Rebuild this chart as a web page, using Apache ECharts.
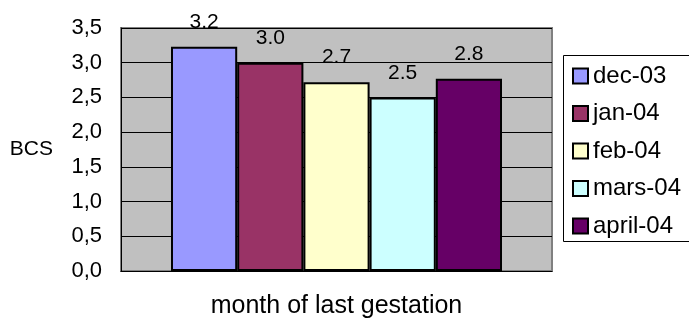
<!DOCTYPE html>
<html>
<head>
<meta charset="utf-8">
<script src="https://cdn.jsdelivr.net/npm/echarts@6/dist/echarts.min.js"></script>
<style>
  html, body { margin: 0; padding: 0; background: #fff; }
  #chart { width: 689px; height: 324px; }
</style>
</head>
<body>
<div id="chart"></div>
<script>
// Body condition score by month of last gestation
const months = ['dec-03', 'jan-04', 'feb-04', 'mars-04', 'april-04'];
const bcsValues = [3.23, 3.0, 2.72, 2.5, 2.77];
const barColors = ['#9999FF', '#993366', '#FFFFCC', '#CCFFFF', '#660066'];
const yTicks = { min: 0, max: 3.5, step: 0.5 };

const FONT = 'Liberation Sans, Arial, sans-serif';

const series = months.map((m, i) => ({
  name: m,
  type: 'bar',
  data: [bcsValues[i]],
  barGap: '0%',
  barCategoryGap: '23.2%',
  itemStyle: { color: barColors[i], borderColor: '#000', borderWidth: 2 },
  label: {
    show: true,
    position: 'top',
    distance: 14,
    color: '#000',
    fontFamily: FONT,
    fontSize: 21,
    formatter: p => p.value.toFixed(1)
  },
  emphasis: { disabled: true }
}));

const chart = echarts.init(document.getElementById('chart'), null, { renderer: 'canvas' });
chart.setOption({
  animation: false,
  textStyle: { fontFamily: FONT },
  grid: {
    left: 121, top: 28, right: 137, bottom: 53,
    show: true,
    backgroundColor: '#c0c0c0',
    borderColor: '#808080',
    borderWidth: 2
  },
  // legend frame runs off the right edge of the canvas
  graphic: [{
    type: 'rect',
    z: 1,
    silent: true,
    shape: { x: 563.5, y: 55.5, width: 200, height: 186 },
    style: { fill: '#fff', stroke: '#000', lineWidth: 1 }
  }],
  legend: {
    orient: 'vertical',
    left: 563,
    top: 55,
    padding: [9, 10, 6, 9],
    itemWidth: 15,
    itemHeight: 15,
    itemGap: 13.5,
    z: 5,
    icon: 'rect',
    textStyle: { fontFamily: FONT, fontSize: 24, color: '#000' },
    data: months
  },
  xAxis: {
    type: 'category',
    data: [''],
    name: 'month of last gestation',
    nameLocation: 'middle',
    nameGap: 23,
    nameTextStyle: { fontFamily: FONT, fontSize: 25, color: '#000' },
    axisLine: { show: true, lineStyle: { color: '#000', width: 1 } },
    axisTick: { show: false },
    axisLabel: { show: false },
    splitLine: { show: false }
  },
  yAxis: {
    type: 'value',
    min: yTicks.min,
    max: yTicks.max,
    interval: yTicks.step,
    name: 'BCS',
    nameLocation: 'middle',
    nameRotate: 0,
    nameGap: 68,
    nameTextStyle: { fontFamily: FONT, fontSize: 21, color: '#000', padding: [0, 0, 5, 0] },
    axisLine: { show: true, lineStyle: { color: '#000', width: 1 } },
    axisTick: { show: false },
    axisLabel: {
      margin: 19,
      color: '#000',
      fontFamily: FONT,
      fontSize: 22,
      formatter: v => v.toFixed(1).replace('.', ',')
    },
    splitLine: { show: true, lineStyle: { color: '#000', width: 1 } }
  },
  series: series
});
</script>
</body>
</html>
